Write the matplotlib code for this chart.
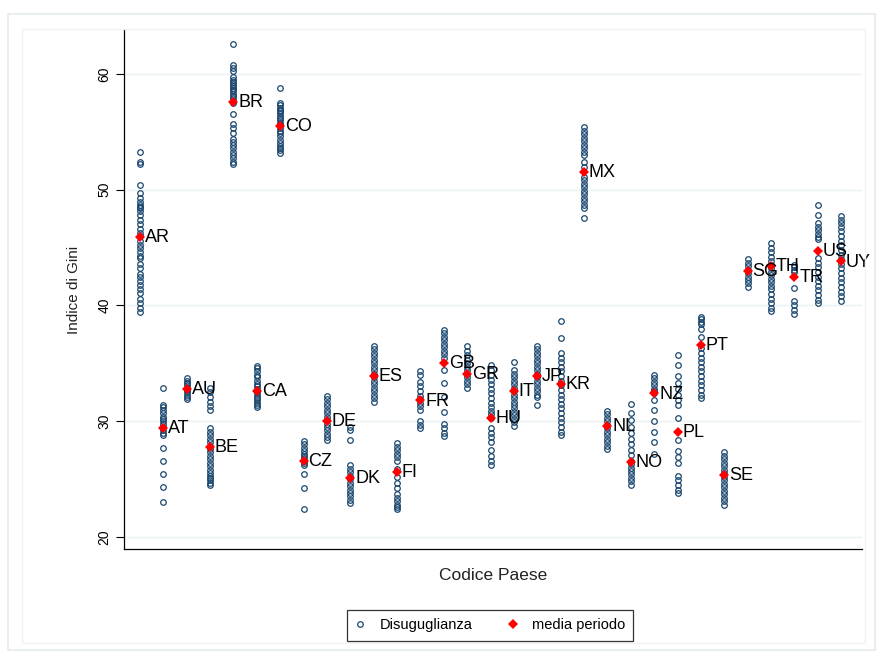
import matplotlib
matplotlib.use("Agg")
import matplotlib.pyplot as plt
from matplotlib.patches import Rectangle
from matplotlib.lines import Line2D

plt.rcParams['font.family'] = ['Liberation Sans', 'DejaVu Sans']

# Country codes, in axis order
countries = ["AR", "AT", "AU", "BE", "BR", "CA", "CO", "CZ", "DE", "DK", "ES",
             "FI", "FR", "GB", "GR", "HU", "IT", "JP", "KR", "MX", "NL", "NO",
             "NZ", "PL", "PT", "SE", "SG", "TH", "TR", "US", "UY"]

# Yearly Gini index observations per country
gini_AR = [53.3, 52.4, 52.2, 50.4, 49.7, 49.3, 48.9, 48.7, 48.5, 48.4, 48.2, 47.8,
           47.4, 47.0, 46.6, 46.3, 46.0, 45.6, 45.2, 45.0, 44.6, 44.3, 44.1, 43.6,
           43.2, 42.7, 42.5, 42.1, 41.8, 41.4, 41.1, 40.6, 40.2, 39.8, 39.4]
gini_AT = [32.9, 31.4, 31.2, 31.0, 30.7, 30.4, 30.2, 30.0, 29.8, 29.5, 29.2, 29.0,
           28.8, 27.7, 26.6, 25.4, 24.3, 23.0]
gini_AU = [33.7, 33.5, 33.3, 33.1, 32.9, 32.7, 32.5, 32.3, 32.1, 31.9]
gini_BE = [32.9, 32.5, 32.1, 31.7, 31.3, 31.0, 29.4, 29.1, 28.8, 28.5, 28.2, 27.9,
           27.6, 27.3, 27.0, 26.7, 26.4, 26.1, 25.8, 25.5, 25.3, 25.1, 24.9, 24.7, 24.5]
gini_BR = [62.6, 60.8, 60.5, 60.3, 59.7, 59.5, 59.3, 59.1, 59.0, 58.8, 58.6, 58.5,
           58.3, 58.1, 57.9, 57.7, 57.5, 56.5, 55.7, 55.3, 54.9, 54.4, 54.1, 53.9,
           53.6, 53.3, 53.0, 52.7, 52.4, 52.2]
gini_CA = [34.8, 34.6, 34.3, 34.0, 33.8, 33.5, 33.2, 33.0, 32.8, 32.6, 32.4, 32.2,
           32.0, 31.8, 31.6, 31.4, 31.2]
gini_CO = [58.8, 57.5, 57.3, 57.1, 56.9, 56.8, 56.6, 56.4, 56.2, 56.0, 55.8, 55.6,
           55.3, 55.1, 54.9, 54.6, 54.3, 54.0, 53.8, 53.6, 53.4, 53.2]
gini_CZ = [28.3, 28.0, 27.7, 27.4, 27.2, 27.0, 26.8, 26.6, 26.4, 26.2, 25.4, 24.2, 22.4]
gini_DE = [32.2, 31.9, 31.6, 31.3, 31.0, 30.7, 30.4, 30.1, 29.8, 29.5, 29.2, 28.9,
           28.6, 28.4]
gini_DK = [29.5, 29.2, 28.4, 26.2, 25.9, 25.6, 25.3, 25.0, 24.7, 24.4, 24.1, 23.8,
           23.5, 23.2, 22.9]
gini_ES = [36.5, 36.2, 35.9, 35.6, 35.3, 35.0, 34.7, 34.4, 34.1, 33.8, 33.5, 33.2,
           32.9, 32.6, 32.3, 32.0, 31.7]
gini_FI = [28.1, 27.8, 27.5, 27.2, 26.9, 26.6, 25.9, 25.2, 24.7, 24.2, 23.7, 23.4,
           23.1, 22.8, 22.6, 22.4]
gini_FR = [34.3, 34.0, 33.4, 33.0, 32.6, 32.2, 31.9, 31.6, 31.3, 31.0, 30.0, 29.7, 29.4]
gini_GB = [37.9, 37.6, 37.3, 37.0, 36.7, 36.4, 36.1, 35.8, 35.5, 34.4, 33.3, 32.1,
           30.8, 29.8, 29.4, 29.0, 28.7]
gini_GR = [36.5, 36.1, 35.7, 35.3, 35.0, 34.7, 34.4, 34.1, 33.8, 33.5, 33.2, 32.9]
gini_HU = [34.9, 34.4, 34.0, 33.6, 33.2, 32.8, 32.4, 32.0, 31.6, 31.2, 30.9, 30.6,
           30.3, 29.4, 29.0, 28.6, 28.2, 27.5, 27.0, 26.6, 26.2]
gini_IT = [35.1, 34.4, 34.1, 33.8, 33.5, 33.2, 32.9, 32.6, 32.3, 32.0, 31.7, 31.4,
           31.1, 30.8, 30.5, 30.2, 29.9, 29.6]
gini_JP = [36.5, 36.2, 35.9, 35.6, 35.3, 35.0, 34.7, 34.4, 34.1, 33.8, 33.5, 33.2,
           32.9, 32.6, 32.3, 32.1, 31.4]
gini_KR = [38.7, 37.2, 35.9, 35.5, 35.1, 34.7, 34.3, 33.9, 33.5, 33.1, 32.7, 32.3,
           31.9, 31.5, 31.1, 30.7, 30.3, 29.9, 29.5, 29.1, 28.8]
gini_MX = [55.4, 55.1, 54.8, 54.5, 54.2, 53.9, 53.6, 53.3, 53.0, 52.4, 52.0, 51.1,
           50.8, 50.5, 50.2, 49.9, 49.6, 49.3, 49.0, 48.7, 48.4, 47.6]
gini_NL = [30.9, 30.6, 30.3, 30.0, 29.7, 29.4, 29.1, 28.8, 28.5, 28.2, 27.9, 27.6]
gini_NO = [31.5, 30.7, 30.1, 29.5, 29.0, 28.5, 28.0, 27.5, 27.1, 26.6, 26.3, 26.0,
           25.7, 25.4, 25.1, 24.8, 24.5]
gini_NZ = [34.0, 33.7, 33.4, 33.1, 32.8, 32.6, 32.4, 31.8, 31.0, 30.0, 29.1, 28.2, 27.2]
gini_PL = [35.7, 34.9, 33.9, 33.3, 32.8, 32.3, 31.8, 31.4, 30.3, 28.4, 27.4, 26.9,
           26.4, 25.3, 24.9, 24.5, 24.1, 23.8]
gini_PT = [39.0, 38.8, 38.6, 38.4, 38.0, 37.3, 36.3, 35.9, 35.5, 35.1, 34.7, 34.3,
           33.9, 33.5, 33.1, 32.7, 32.3, 32.0]
gini_SE = [27.3, 27.0, 26.7, 26.4, 26.1, 25.8, 25.5, 25.2, 24.9, 24.6, 24.3, 24.0,
           23.7, 23.4, 23.1, 22.8]
gini_SG = [44.0, 43.7, 43.4, 43.1, 42.8, 42.5, 42.2, 41.9, 41.6]
gini_TH = [45.4, 45.0, 44.6, 44.2, 43.8, 43.5, 43.2, 42.9, 42.6, 42.3, 42.0, 41.7,
           41.4, 41.0, 40.6, 40.2, 39.8, 39.5]
gini_TR = [43.5, 43.3, 43.1, 42.9, 41.5, 40.4, 40.0, 39.6, 39.3]
gini_US = [48.7, 47.8, 47.1, 46.8, 46.5, 46.2, 45.9, 45.7, 44.1, 43.7, 43.3, 42.9,
           42.5, 42.1, 41.7, 41.3, 40.9, 40.5, 40.2]
gini_UY = [47.7, 47.4, 47.1, 46.8, 46.4, 46.0, 45.6, 45.2, 44.8, 44.4, 44.0, 43.6,
           43.2, 42.8, 42.4, 42.0, 41.6, 41.2, 40.8, 40.4]

# Period mean of the Gini index per country
period_mean = [45.9, 29.4, 32.8, 27.8, 57.6, 32.6, 55.5, 26.6, 30.0, 25.1, 33.9,
               25.6, 31.8, 35.05, 34.1, 30.3, 32.6, 33.9, 33.2, 51.55, 29.6, 26.5,
               32.4, 29.1, 36.6, 25.35, 43.0, 43.4, 42.5, 44.7, 43.8]

y_ticks = [20, 30, 40, 50, 60]

series = [gini_AR, gini_AT, gini_AU, gini_BE, gini_BR, gini_CA, gini_CO, gini_CZ,
          gini_DE, gini_DK, gini_ES, gini_FI, gini_FR, gini_GB, gini_GR, gini_HU,
          gini_IT, gini_JP, gini_KR, gini_MX, gini_NL, gini_NO, gini_NZ, gini_PL,
          gini_PT, gini_SE, gini_SG, gini_TH, gini_TR, gini_US, gini_UY]

W, H = 879, 653
fig = plt.figure(figsize=(W / 100, H / 100), dpi=100)
fig.patch.set_facecolor("white")

# Outer and inner graph-region frames
fig.patches.append(Rectangle((8 / W, 1 - 650 / H), 867 / W, 636 / H,
                             transform=fig.transFigure, fill=False,
                             edgecolor="#e4eaec", linewidth=1.2))
fig.patches.append(Rectangle((22 / W, 1 - 643 / H), 843 / W, 614 / H,
                             transform=fig.transFigure, fill=False,
                             edgecolor="#edf2f3", linewidth=1.0))

left, right, top, bottom = 124, 862, 30, 549
ax = fig.add_axes([left / W, 1 - bottom / H, (right - left) / W, (bottom - top) / H])

navy = "#1a476f"
marker_style = dict(linestyle="none", marker="o", markersize=4.0,
                    markerfacecolor="none", markeredgecolor=navy,
                    markeredgewidth=0.9)
for i, vals in enumerate(series, start=1):
    ax.plot([i] * len(vals), vals, zorder=3, **marker_style)

xs = list(range(1, len(countries) + 1))
mean_style = dict(linestyle="none", marker="D", markersize=5.0,
                  color="#ff0000", markeredgewidth=0)
ax.plot(xs, period_mean, zorder=4, **mean_style)
for x, m, code in zip(xs, period_mean, countries):
    ax.annotate(code, (x, m), xytext=(3.5, -0.5), textcoords="offset points",
                ha="left", va="center", fontsize=13, color="black", zorder=5)

ax.set_xlim(0.317, 31.89)
ax.set_ylim(18.96, 63.8)
ax.set_yticks(y_ticks)
ax.set_yticklabels([str(t) for t in y_ticks], rotation=90, va="center", fontsize=10)
ax.tick_params(axis="y", length=6, width=0.8, pad=3, colors="black")
ax.set_xticks([])
ax.grid(axis="y", color="#eaf2f3", linewidth=1.0, zorder=0)
ax.set_axisbelow(True)
for s in ["top", "right"]:
    ax.spines[s].set_visible(False)
for s in ["left", "bottom"]:
    ax.spines[s].set_color("black")
    ax.spines[s].set_linewidth(0.9)

ax.set_ylabel("Indice di Gini", fontsize=11, labelpad=12, color="#222222")
ax.set_xlabel("Codice Paese", fontsize=12.5, labelpad=14, color="#222222")

handles = [Line2D([], [], **marker_style), Line2D([], [], **mean_style)]
leg = fig.legend(handles, ["Disuguglianza", "media periodo"], loc="center",
                 bbox_to_anchor=(490 / W, 1 - 625.5 / H), ncol=2, fontsize=10.5,
                 frameon=True, fancybox=False, edgecolor="black",
                 handlelength=0.8, handletextpad=0.9, columnspacing=2.4,
                 borderpad=0.55)
leg.get_frame().set_linewidth(0.9)

fig.savefig("out.png", dpi=100, facecolor="white")
